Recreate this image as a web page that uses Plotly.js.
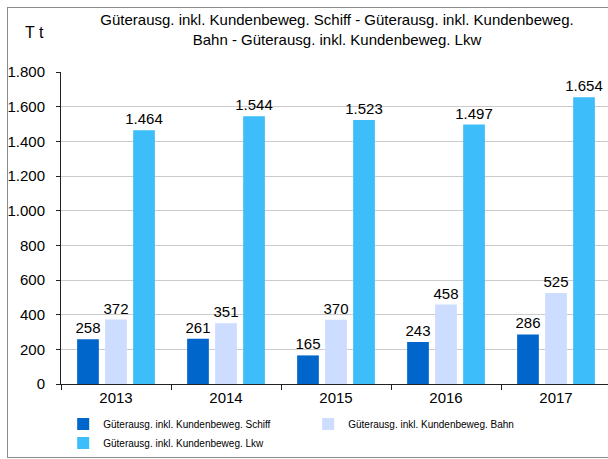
<!DOCTYPE html>
<html>
<head>
<meta charset="utf-8">
<script src="https://cdn.plot.ly/plotly-3.0.1.min.js"></script>
<style>
html, body { margin: 0; padding: 0; width: 608px; height: 459px; overflow: hidden; background: #fff; }
#frame { position: absolute; left: 7px; top: 7px; width: 640px; height: 451px; border: 1px solid #8c8c8c; box-sizing: border-box; }
#chart { position: absolute; left: 0; top: 0; width: 611px; height: 459px; }
</style>
</head>
<body>
<div id="frame"></div>
<div id="chart"></div>
<script>
const years = ['2013', '2014', '2015', '2016', '2017'];
const schiff = [258, 261, 165, 243, 286];
const bahn = [372, 351, 370, 458, 525];
const lkw = [1464, 1544, 1523, 1497, 1654];
const seriesNames = [
  'Güterausg. inkl. Kundenbeweg. Schiff',
  'Güterausg. inkl. Kundenbeweg. Bahn',
  'Güterausg. inkl. Kundenbeweg. Lkw'
];
const seriesColors = ['#0066CC', '#CCDDFF', '#3DBEFA'];
const yTicks = [0, 200, 400, 600, 800, 1000, 1200, 1400, 1600, 1800];

const numFont = { family: 'Liberation Sans, Arial, sans-serif', size: 15, color: '#000' };
const narrow = 'Liberation Sans Narrow, Arial Narrow, Liberation Sans, sans-serif';
const seriesVals = [schiff, bahn, lkw];

const traces = seriesVals.map((vals, i) => ({
  type: 'bar',
  name: seriesNames[i],
  x: years,
  y: vals,
  marker: { color: seriesColors[i], line: { width: 0 } },
  text: vals,
  texttemplate: '%{y:,d}',
  textposition: 'outside',
  constraintext: 'none',
  textfont: numFont,
  cliponaxis: false,
  hoverinfo: 'skip'
}));

const layout = {
  width: 611,
  height: 459,
  margin: { l: 61, r: 0, t: 72, b: 75 },
  paper_bgcolor: 'rgba(0,0,0,0)',
  plot_bgcolor: '#fff',
  separators: ',.',
  barmode: 'group',
  bargap: 0.236,
  bargroupgap: 0.225,
  showlegend: true,
  title: {
    text: 'Güterausg. inkl. Kundenbeweg. Schiff - Güterausg. inkl. Kundenbeweg.<br>Bahn - Güterausg. inkl. Kundenbeweg. Lkw',
    font: { family: narrow, size: 15, color: '#000' },
    x: 337 / 611,
    xref: 'container',
    xanchor: 'center',
    y: 1 - 25 / 459,
    yref: 'container',
    yanchor: 'top',
    automargin: false
  },
  annotations: [{
    text: 'T t',
    xref: 'paper', yref: 'paper',
    x: (34 - 61) / 550, y: (384 - 32) / 312,
    xanchor: 'center', yanchor: 'middle',
    showarrow: false,
    font: { family: 'Liberation Sans, Arial, sans-serif', size: 16, color: '#000' }
  }],
  xaxis: {
    type: 'category',
    showline: true,
    linecolor: '#222',
    linewidth: 1,
    ticks: 'outside',
    tickson: 'boundaries',
    ticklen: 5,
    tickcolor: '#222',
    tickfont: numFont,
    showgrid: false,
    fixedrange: true
  },
  yaxis: {
    range: [0, 1800],
    tickvals: yTicks,
    tickformat: ',d',
    showline: true,
    linecolor: '#222',
    linewidth: 1,
    ticks: 'outside',
    ticklen: 4,
    tickcolor: '#222',
    ticklabelstandoff: 8,
    tickfont: numFont,
    showgrid: true,
    gridcolor: '#cccccc',
    gridwidth: 1,
    zeroline: false,
    fixedrange: true
  },
  legend: {
    orientation: 'h',
    x: 0.004,
    xanchor: 'left',
    y: -0.082,
    yanchor: 'top',
    entrywidth: 200,
    entrywidthmode: 'pixels',
    traceorder: 'normal',
    font: { family: narrow, size: 10, color: '#000' },
    bgcolor: 'rgba(0,0,0,0)'
  }
};

Plotly.newPlot('chart', traces, layout, { displayModeBar: false, staticPlot: true });
</script>
</body>
</html>
